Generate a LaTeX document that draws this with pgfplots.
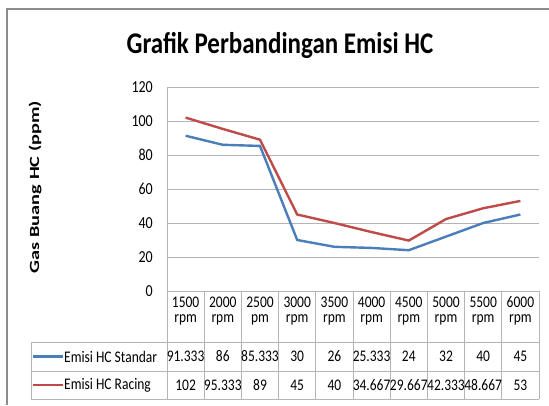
\documentclass[border=0pt]{standalone}
\usepackage{pgfplots}
\pgfplotsset{compat=1.18}
\usepackage{graphicx}
\usepackage{fontspec}
\setmainfont{Carlito}
\definecolor{serblue}{RGB}{74,126,187}
\definecolor{serred}{RGB}{190,75,72}
\definecolor{framegray}{RGB}{140,140,140}
\definecolor{gridgray}{RGB}{180,180,180}
\newcommand\vs[1]{\scalebox{1}[1.2]{#1}}
\begin{document}
\begin{tikzpicture}[x=1bp,y=1bp]
\path[use as bounding box] (0,0) rectangle (549,405);
% outer frame
\draw[framegray, line width=1.5bp] (7,0) -- (7,396) -- (549,396);
\begin{axis}[
  at={(167bp,114bp)}, anchor=south west,
  scale only axis, width=372bp, height=204bp,
  xmin=0.5, xmax=10.5, ymin=0, ymax=120,
  xtick=\empty, ytick={0,20,...,120},
  ymajorgrids, grid style={gridgray, line width=0.8bp},
  axis x line*=bottom, axis y line*=left,
  axis line style={gridgray, line width=0.8bp, -},
  major tick length=0pt,
  /pgf/number format/assume math mode=true,
  yticklabel style={font=\fontsize{14bp}{16bp}\selectfont, anchor=east, inner sep=0pt, xshift=-14bp},
  yticklabel={\vs{\pgfmathprintnumber{\tick}}},
  clip=false,
]
\addplot[serblue, line width=2.4bp] coordinates {
  (1,91.333) (2,86) (3,85.333) (4,30) (5,26) (6,25.333) (7,24) (8,32) (9,40) (10,45)};
\addplot[serred, line width=2.4bp] coordinates {
  (1,102) (2,95.333) (3,89) (4,45) (5,40) (6,34.667) (7,29.667) (8,42.333) (9,48.667) (10,53)};
\end{axis}
% title
\node[font=\fontsize{25bp}{28bp}\selectfont\bfseries, anchor=base] at (280,352) {\vs{Grafik Perbandingan Emisi HC}};
% y label
\node[font=\fontsize{14bp}{16bp}\selectfont\bfseries, rotate=90] at (35,218) {\scalebox{1.45}[1]{Gas Buang HC (ppm)}};
% data table grid
\draw[gridgray, line width=0.8bp] (31,63) -- (539,63);
\draw[gridgray, line width=0.8bp] (31,34) -- (539,34);
\draw[gridgray, line width=0.8bp] (31,6) -- (539,6);
\draw[gridgray, line width=0.8bp] (31,63) -- (31,6);
\foreach \i in {0,...,10} {
  \draw[gridgray, line width=0.8bp] ({167+37.2*\i},114) -- ({167+37.2*\i},6);
}
% header labels
\foreach \c/\u [count=\i] in {1500/rpm,2000/rpm,2500/pm,3000/rpm,3500/rpm,4000/rpm,4500/rpm,5000/rpm,5500/rpm,6000/rpm} {
  \node[font=\fontsize{13.5bp}{15bp}\selectfont] at ({167+37.2*(\i-0.5)},103) {\vs{\c}};
  \node[font=\fontsize{13.5bp}{15bp}\selectfont] at ({167+37.2*(\i-0.5)},85) {\vs{\u}};
}
% legend keys
\draw[serblue, line width=2.4bp] (33,48.5) -- (63,48.5);
\draw[serred, line width=2.4bp] (33,20) -- (63,20);
\node[font=\fontsize{13.5bp}{15bp}\selectfont, anchor=west, inner sep=0pt] at (64,48.5) {\vs{Emisi HC Standar}};
\node[font=\fontsize{13.5bp}{15bp}\selectfont, anchor=west, inner sep=0pt] at (64,20) {\vs{Emisi HC Racing}};
% values
\foreach \v [count=\i] in {91.333,86,85.333,30,26,25.333,24,32,40,45} {
  \node[font=\fontsize{13.5bp}{15bp}\selectfont, inner sep=0pt] at ({167+37.2*(\i-0.5)},48.5) {\vs{\v}};
}
\foreach \v [count=\i] in {102,95.333,89,45,40,34.667,29.667,42.333,48.667,53} {
  \node[font=\fontsize{13.5bp}{15bp}\selectfont, inner sep=0pt] at ({167+37.2*(\i-0.5)},20) {\vs{\v}};
}
\end{tikzpicture}
\end{document}
